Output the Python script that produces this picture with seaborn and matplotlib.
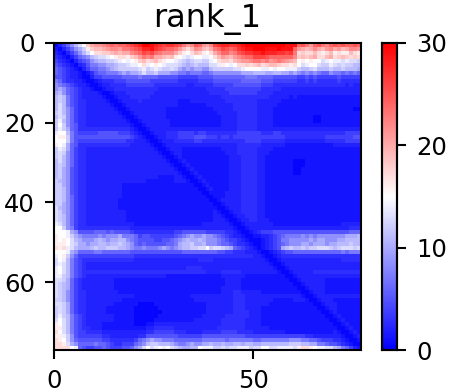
import numpy as np
import pandas as pd
import matplotlib
matplotlib.use("Agg")
import matplotlib.pyplot as plt
import seaborn as sns

# Cell values; one character per cell, base 36 (a=10 ... u=30)
rows_top = [
"13579bdfik llmnonoopq rsuutsrqrr qpnlmpolkm qrssrrstuu uuuuuuuutt topnlopnmo popoopo",
"213579acgi jjklmmlnno pqsstrqpoo nljhjmljik noqpoprstt uuutttuttt olkjkmkjlm kljkmml",
"3213579bdf hhiijkjkkm noqpqonmmm kigfhjigfh kmoomnpqrr sstsssrrqr nhihhjhghj ghggjhg",
"432135789b cddefghhgi jlnmnkkjij gfedeffeef hjlkjlmnoo qqqpoooooo mijijkhhjk hijihih",
"5432135679 abbccdefef gijhijhgff edcbcddcce fhiihjkllm nnmnlmnmlk jfgfgffdef eededdc",
"6543213468 899aabccde efhefgfedd dcbabcbbbd degfefhhih ijhijjihhg hfdeffdcce dcdccbb",
"7654321357 7889abcccc cdecdedccd ca9a9aa99b cccccddeff ffeefeffee ecbbcdbbbc bbcbbba",
"7654332124 6778889a9a abdbbcaaa9 9887888778 9999999aaa bbbaabbaa9 a989898779 8878787",
"6654332113 5566666777 7877776666 6555556666 7777777788 8777766666 6556565555 5655555",
"8754433211 2344455566 6666555555 5444445555 6666666777 7766655555 5445454444 4544444",
"9876543321 1233444455 5555544444 4443344444 5555566666 6655544444 4444444444 4443433",
"9a97654332 1123344444 4444443333 3333333344 4445555555 5544444333 3333333333 3333333",
"ab97654333 3211233344 4444433333 3333333334 4444555555 5444433333 3333333333 3333333",
"bcb8654333 3321123334 4444333333 3333333333 3344444444 4444333332 3222222222 2222222",
"bcb8654433 3332112333 3433333333 3222333333 3334444444 4333333222 2222222222 2222222",
"bdb8654433 3333211233 3333333333 3222222233 3333344444 4333332222 2222222222 2222222",
"bdb9754433 3333321123 3333333322 2222222222 3333344444 4333322222 2222222222 2222211",
"cdb9754433 3333332112 3333333322 2222222222 2333334444 4333322222 2222222222 2222222",
"bdc9754433 3333333211 2333333322 2222222222 2233334444 4333322222 2222211222 2222222",
"ceb9754433 3333333321 1233333332 2222222222 2233334444 4333322222 2222211222 2222222",
]
rows_upper = [
"cfc9764433 3333333332 1123333332 2222222222 2233334444 4333322222 2222222222 2222222",
"ceca764444 4444444443 2112333333 3333333333 3333334444 4333333333 3333333333 3333333",
"effb865555 5666665554 3211233344 4555545544 4444445555 5544455444 4444444444 4445555",
"fggc866666 6666666665 4321123344 4555566655 5455455555 5555555544 4444444455 5555566",
"fffc865555 5555555544 3332112333 4444455444 4444444455 5544444433 3333333344 4445555",
"gfea764444 4444444443 3333211233 3333333333 3333334444 4433333322 2222222222 3333333",
"ceda754433 3333333333 3333321123 3322222222 2233334444 4333322222 2222222222 2222222",
"cdc9754433 3333333333 3333332112 3322222222 2223334444 4333222222 2222222222 2222222",
"cdb9754433 3333333333 3333333211 2322222222 2222333444 4332222222 2222222222 2222222",
"bdb9754433 3333333333 3333333321 1232222222 2222333444 4332222222 1112222222 2222222",
"bcb9754433 3333333333 3333333332 1123222222 2222333444 4332222222 1112222222 2222222",
"bca9654433 3333333333 3333333333 2112322222 2222333444 4332222222 1122222222 2222222",
"bca9654433 3333333333 3333333333 3211232222 2222333444 4332222222 1122222222 2222222",
"bca9654433 3333333333 3333332222 3321123222 2222333444 4332222222 2222222222 2222222",
"cba9654433 3333333333 3332222222 3332112322 2222333444 4332222222 2222222222 2222222",
"cca9654433 3333333222 2222222222 2222211232 2222333444 4332222222 2222222222 2222222",
"ccb9654433 3333333222 2222222222 2222221123 2222333444 4332222222 2222222222 2222222",
"ccb9654433 3333333222 2222222222 2222222112 2223333444 4332222222 2222222222 2222222",
"ccb9754433 3333333222 2222222222 2222222211 2223333444 4332222222 2222222222 2222222",
"ccb9754433 3333332222 2222222222 2222222221 1233333444 4332222222 2222222222 2222222",
]
rows_middle = [
"cca9754433 3333332222 2222222222 2222222222 1123333444 4332222222 2222222222 2222222",
"dba9754433 3333332222 2222222222 2222222222 2112333444 4332222222 2222222222 2222222",
"dca9754433 3333333322 2222222222 2222222222 3211233444 4332222222 2222222222 2222222",
"dcb9754433 3333333322 2222222222 2222222222 3321123344 4332222222 2222222222 2222222",
"dcb9754433 3333333322 2222222222 2222222222 3332112334 4333222222 2222222222 2222222",
"edb9754433 3333333333 2222222222 2222222333 3333211233 3333322222 2222222222 2233333",
"ffc9854444 4444444443 3333333333 3333333333 3333321123 3333333333 3333333333 3333444",
"fffea96666 7776766665 4444444444 5566666655 5554432112 3455566666 6666666666 6666777",
"gffeca9888 898999a888 7566555555 6789a99a99 8765433211 2233456788 8898989999 999aaab",
"gfgfdba999 aba9aabb98 7666655667 89abaaba99 9876554321 1123456889 9999a9aa99 9aabbbb",
"gggfdcaa9a abbabbcba9 7676666677 8abbcaab99 9877654432 1123456789 99aa9aaa9a abbbcbb",
"hghedbaaab cbbcccbba9 8898889a98 9abbccddfc ddcba76543 2123456abc bbcbccdddc bcdddcd",
"fffea97777 8877777776 6666666666 6677777777 7665544433 3211234566 7777777777 7787888",
"efgc975555 5555555555 4444444444 4444444444 4444444444 3321123444 4444444444 4444444",
"dfeb865444 4444444444 3333333333 3333334444 3333333333 3332112333 3333333333 3344444",
"dedb865433 3333333333 3333333333 3333333333 3333333333 3333211233 3333333333 3333333",
"efdb865433 3333333333 3333333333 3334444333 3333333333 3333321123 3333333333 3333333",
"efdb865444 4444444444 4444444444 4444444433 3344444333 3333332112 3333344444 4444444",
"eecb865433 3333333333 3333333322 2222222222 2233333322 2222222211 2333333333 3333333",
"ddca754333 3333322222 2222222222 2222222222 2223333222 2222222221 1233333322 2222222",
]
rows_lower = [
"dcba754333 3333322222 2222222222 2222222222 2223333222 2222222222 1123333322 2222222",
"dcba754333 3333322222 2222222222 2222222222 2233333222 2222222222 2112333322 2222222",
"dcb9754433 3333332222 2222222222 2222222222 2233344333 3322222222 2211233322 2222222",
"dcb9754433 3333333333 2222222222 2222333333 3333344433 3333333333 3321123333 3333333",
"ccb9754433 3333333222 2222222222 2222233333 3333344433 3333322222 3332112333 2222222",
"ddca754433 3333322222 2111122222 2222222233 3333344433 3333222222 2222211233 3222222",
"cdca754433 3332222222 1111112222 2222222233 3333344433 3322222222 2222221123 3222222",
"cdca754433 3332222222 1111111222 2222222233 3333344443 3322222222 2222222112 3222222",
"cecb865433 3333322222 1111112222 2222222333 3334444443 3322222222 2222222211 2322222",
"dfdb865433 3333322222 1111122222 2222233333 3344444433 3322222222 2222222221 1232222",
"gfdb865433 3322222222 1112233333 3333333333 3344444433 3322222222 2222222222 1123222",
"ggdb865443 3322222222 2223344444 3333333333 3444444433 3333222222 2222222222 2112322",
"hfdb865544 4433333333 3334455555 4443333444 4455554444 3333333322 2222222222 3211232",
"ggec965555 5544333333 3446666666 6555555666 6666666655 5555555555 5554433333 3321123",
"hgfc976666 6655444444 5789a99888 7777777888 8887888888 7788888889 9988776555 4432112",
"hhgda97777 8776544555 789bccbbba 9889a99aab aabaabbabb aabbbbbbbc ccbbaa8876 6543211",
"hhhhfe7655 6676555667 9adfdefefd cbaabbfeee ccdcddeeec ddffddeeee dghhgfeedd ba87532",
]
# Low codes stand for finer levels, as read from the blue shades of the picture
low_code_levels = {"1": 0.4, "2": 1.2, "3": 2.0, "4": 2.8, "5": 3.8,
                   "6": 5.0, "7": 6.0, "8": 7.2, "9": 8.5}
title = "rank_1"
x_ticks = [0, 50]
y_ticks = [0, 20, 40, 60]
cbar_ticks = [0, 10, 20, 30]

all_rows = rows_top + rows_upper + rows_middle + rows_lower
values = [[low_code_levels.get(ch, int(ch, 36)) for ch in r.replace(" ", "")] for r in all_rows]
bad = [i for i, v in enumerate(values) if len(v) != 77]
assert not bad and len(values) == 77, (bad, len(values))
df = pd.DataFrame(values)

W, H, DPI = 475, 392, 100
sns.set_theme(style="white", rc={"font.family": "DejaVu Sans"})
fig = plt.figure(figsize=(W / DPI, H / DPI), dpi=DPI)
ax = fig.add_axes([54 / W, 1 - 350 / H, 307 / W, 307 / H])
cax = fig.add_axes([382 / W, 1 - 350 / H, 15 / W, 307 / H])
sns.heatmap(df, ax=ax, cbar_ax=cax, cmap="bwr", vmin=0, vmax=30,
            xticklabels=False, yticklabels=False,
            cbar_kws={"ticks": cbar_ticks})

FS = 17.5
ax.set_xticks(x_ticks, [str(t) for t in x_ticks], rotation=0)
ax.set_yticks(y_ticks, [str(t) for t in y_ticks], rotation=0)
ax.set_xlabel("")
ax.set_ylabel("")
ax.tick_params(axis="both", length=6.7, width=1.5, labelsize=FS, color="black",
               left=True, bottom=True, pad=7, labelcolor="black")
ax.set_title(title, fontsize=23, color="black", pad=11.5)
for s in ax.spines.values():
    s.set_visible(True)
    s.set_color("black")
    s.set_linewidth(1.5)
cax.tick_params(axis="y", length=6.7, width=1.5, labelsize=FS, color="black",
                right=True, pad=7, labelcolor="black")
for s in cax.spines.values():
    s.set_visible(True)
    s.set_color("black")
    s.set_linewidth(1.5)
fig.savefig("out.png", dpi=DPI)
